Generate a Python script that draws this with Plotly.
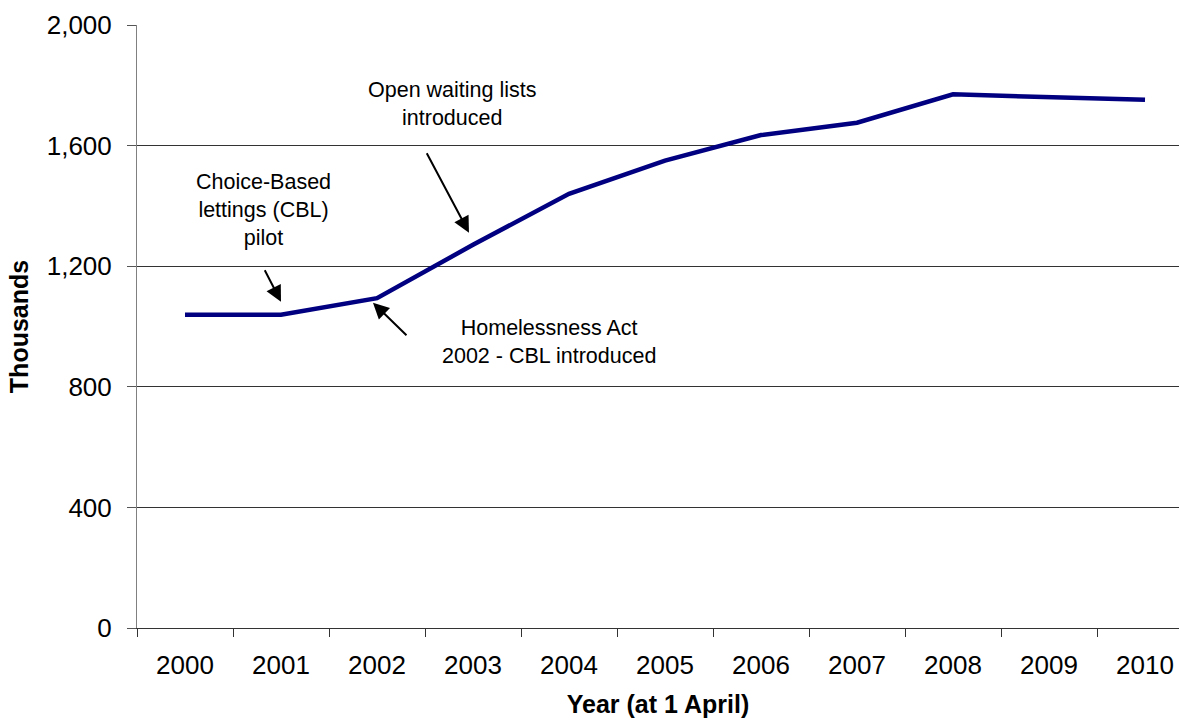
import plotly.graph_objects as go

years = ["2000", "2001", "2002", "2003", "2004", "2005", "2006", "2007", "2008", "2009", "2010"]
households = [1039, 1039, 1094, 1271, 1440, 1550, 1635, 1676, 1770, 1762, 1752]

y_ticks = [0, 400, 800, 1200, 1600, 2000]

ann_text = [
    "Choice-Based<br>lettings (CBL)<br>pilot",
    "Open waiting lists<br>introduced",
    "Homelessness Act<br>2002 - CBL introduced",
]
ann_text_x = [0.8125, 2.79, 3.79]
ann_text_y = [1387, 1737, 948]
arrow_x = [1.0, 2.958, 1.958]
arrow_y = [1082, 1311, 1079]
arrow_ax = [-17, -43, 35]
arrow_ay = [-33, -81, 34]

FONT = "Arial, 'Liberation Sans', sans-serif"

fig = go.Figure()
fig.add_trace(go.Scatter(
    x=years, y=households, mode="lines",
    line=dict(color="#000080", width=4.5),
    hoverinfo="skip", showlegend=False,
))

annotations = []
for t, x, y in zip(ann_text, ann_text_x, ann_text_y):
    annotations.append(dict(
        x=x, y=y, xref="x", yref="y", text=t, showarrow=False,
        font=dict(family=FONT, size=21.5, color="#000000"),
        xanchor="center", yanchor="middle", align="center",
    ))
for x, y, ax, ay in zip(arrow_x, arrow_y, arrow_ax, arrow_ay):
    annotations.append(dict(
        x=x, y=y, xref="x", yref="y", text="", showarrow=True,
        ax=ax, ay=ay, arrowhead=2, arrowsize=1.6, arrowwidth=2,
        arrowcolor="#000000", standoff=0,
    ))

fig.update_layout(
    width=1179, height=723,
    margin=dict(l=137, r=0, t=25, b=95),
    paper_bgcolor="white", plot_bgcolor="white",
    font=dict(family=FONT, color="#000000"),
    annotations=annotations,
    xaxis=dict(
        type="category",
        range=[-0.5, 10.354],
        showgrid=False, zeroline=False,
        showline=True, linecolor="#333333", linewidth=1,
        ticks="outside", tickson="boundaries", ticklen=8, tickcolor="#333333",
        ticklabelstandoff=14,
        tickfont=dict(family=FONT, size=26, color="#000000"),
        title=dict(text="<b>Year (at 1 April)</b>", font=dict(family=FONT, size=25, color="#000000"), standoff=16),
    ),
    yaxis=dict(
        range=[0, 2000],
        tickvals=y_ticks, tickformat=",",
        showgrid=True, gridcolor="#333333", gridwidth=1,
        zeroline=False,
        showline=True, linecolor="#808080", linewidth=1,
        ticks="outside", ticklen=9, tickcolor="#555555",
        ticklabelstandoff=10,
        tickfont=dict(family=FONT, size=26, color="#000000"),
        title=dict(text="<b>Thousands</b>", font=dict(family=FONT, size=25, color="#000000"), standoff=10),
    ),
)

fig.write_html("out.html")
